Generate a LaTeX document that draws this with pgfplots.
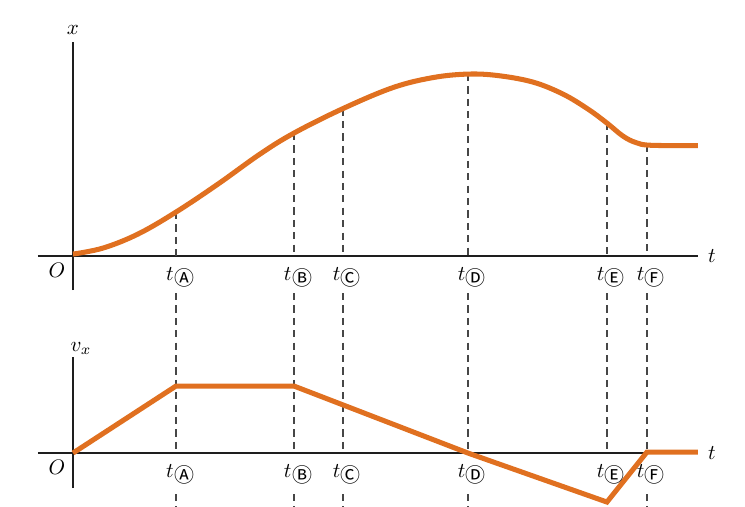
\documentclass[border=0pt]{standalone}
\usepackage{pgfplots}
\pgfplotsset{compat=1.18}
\usepackage{fontspec}
\newfontfamily\cjk{Noto Sans CJK JP}
\definecolor{curve}{RGB}{224,112,32}
\definecolor{axc}{RGB}{30,30,30}
\definecolor{dsh}{RGB}{70,70,70}
\newcommand{\lab}[1]{$t$\kern0.2pt\raisebox{-0.6ex}{\cjk\fontsize{9.5}{9.5}\selectfont #1}}
\begin{document}
\begin{tikzpicture}
\useasboundingbox (-34.75pt,-119pt) rectangle (319.9pt,121.9pt);
\pgfplotsset{
  every axis/.append style={
    x=47.6pt, y=47.6pt,
    axis lines=middle,
    axis line style={-, line width=1pt, color=axc},
    xmin=-0.35, xmax=6.25,
    xtick=\empty, ytick=\empty,
    clip=false,
    anchor=origin,
  },
  dl/.style={dsh, line width=0.6pt, dash pattern=on 3.4pt off 2.5pt, forget plot},
}
% top axis
\begin{axis}[at={(0pt,0pt)}, ymin=-0.34, ymax=2.14]
  % top segments
  \addplot[dl] coordinates {(1.03,0.44) (1.03,0)};
  \addplot[dl] coordinates {(2.21,1.23) (2.21,0)};
  \addplot[dl] coordinates {(2.70,1.475) (2.70,0)};
  \addplot[dl] coordinates {(3.95,1.82) (3.95,0)};
  \addplot[dl] coordinates {(5.34,1.33) (5.34,0)};
  \addplot[dl] coordinates {(5.74,1.11) (5.74,0)};
  % middle segments
  \addplot[dl] coordinates {(1.03,-0.37) (1.03,-1.97)};
  \addplot[dl] coordinates {(2.21,-0.37) (2.21,-1.97)};
  \addplot[dl] coordinates {(2.70,-0.37) (2.70,-1.97)};
  \addplot[dl] coordinates {(3.95,-0.37) (3.95,-1.97)};
  \addplot[dl] coordinates {(5.34,-0.37) (5.34,-1.97)};
  \addplot[dl] coordinates {(5.74,-0.37) (5.74,-1.97)};
  % bottom segments
  \addplot[dl] coordinates {(1.03,-2.38) (1.03,-2.52)};
  \addplot[dl] coordinates {(2.21,-2.38) (2.21,-2.52)};
  \addplot[dl] coordinates {(2.70,-2.38) (2.70,-2.52)};
  \addplot[dl] coordinates {(3.95,-2.38) (3.95,-2.52)};
  \addplot[dl] coordinates {(5.74,-2.38) (5.74,-2.52)};
  \addplot[curve, line width=2.4pt, smooth, tension=0.6] coordinates {
    (0,0.02) (0.30,0.08) (0.65,0.22) (1.03,0.44) (1.45,0.72) (1.87,1.02)
    (2.21,1.23) (2.70,1.475) (3.20,1.685) (3.60,1.785) (3.95,1.82) (4.25,1.805)
    (4.60,1.74) (4.90,1.62) (5.15,1.47) (5.34,1.33) (5.50,1.20) (5.63,1.135)
    (5.78,1.108) (6.25,1.105)
  };
  \node[anchor=base] at (axis cs:0,2.22) {$x$};
  \node at (axis cs:6.39,0) {$t$};
  \node at (axis cs:-0.16,-0.14) {$O$};
  \node[anchor=base] at (axis cs:1.07,-0.245) {\lab{Ⓐ}};
  \node[anchor=base] at (axis cs:2.25,-0.245) {\lab{Ⓑ}};
  \node[anchor=base] at (axis cs:2.74,-0.245) {\lab{Ⓒ}};
  \node[anchor=base] at (axis cs:3.99,-0.245) {\lab{Ⓓ}};
  \node[anchor=base] at (axis cs:5.38,-0.245) {\lab{Ⓔ}};
  \node[anchor=base] at (axis cs:5.78,-0.245) {\lab{Ⓕ}};
\end{axis}
% bottom axis
\begin{axis}[at={(0pt,-93.77pt)}, ymin=-0.35, ymax=0.96]
  \addplot[curve, line width=2.4pt, line join=miter] coordinates {
    (0,0) (1.03,0.67) (2.21,0.67) (3.95,0) (5.34,-0.49) (5.74,0.01) (6.25,0.01)
  };
  \node[anchor=base] at (axis cs:0.08,1.02) {$v_x$};
  \node at (axis cs:6.39,0) {$t$};
  \node at (axis cs:-0.16,-0.14) {$O$};
  \node[anchor=base] at (axis cs:1.07,-0.245) {\lab{Ⓐ}};
  \node[anchor=base] at (axis cs:2.25,-0.245) {\lab{Ⓑ}};
  \node[anchor=base] at (axis cs:2.74,-0.245) {\lab{Ⓒ}};
  \node[anchor=base] at (axis cs:3.99,-0.245) {\lab{Ⓓ}};
  \node[anchor=base] at (axis cs:5.38,-0.245) {\lab{Ⓔ}};
  \node[anchor=base] at (axis cs:5.78,-0.245) {\lab{Ⓕ}};
\end{axis}
\end{tikzpicture}
\end{document}
